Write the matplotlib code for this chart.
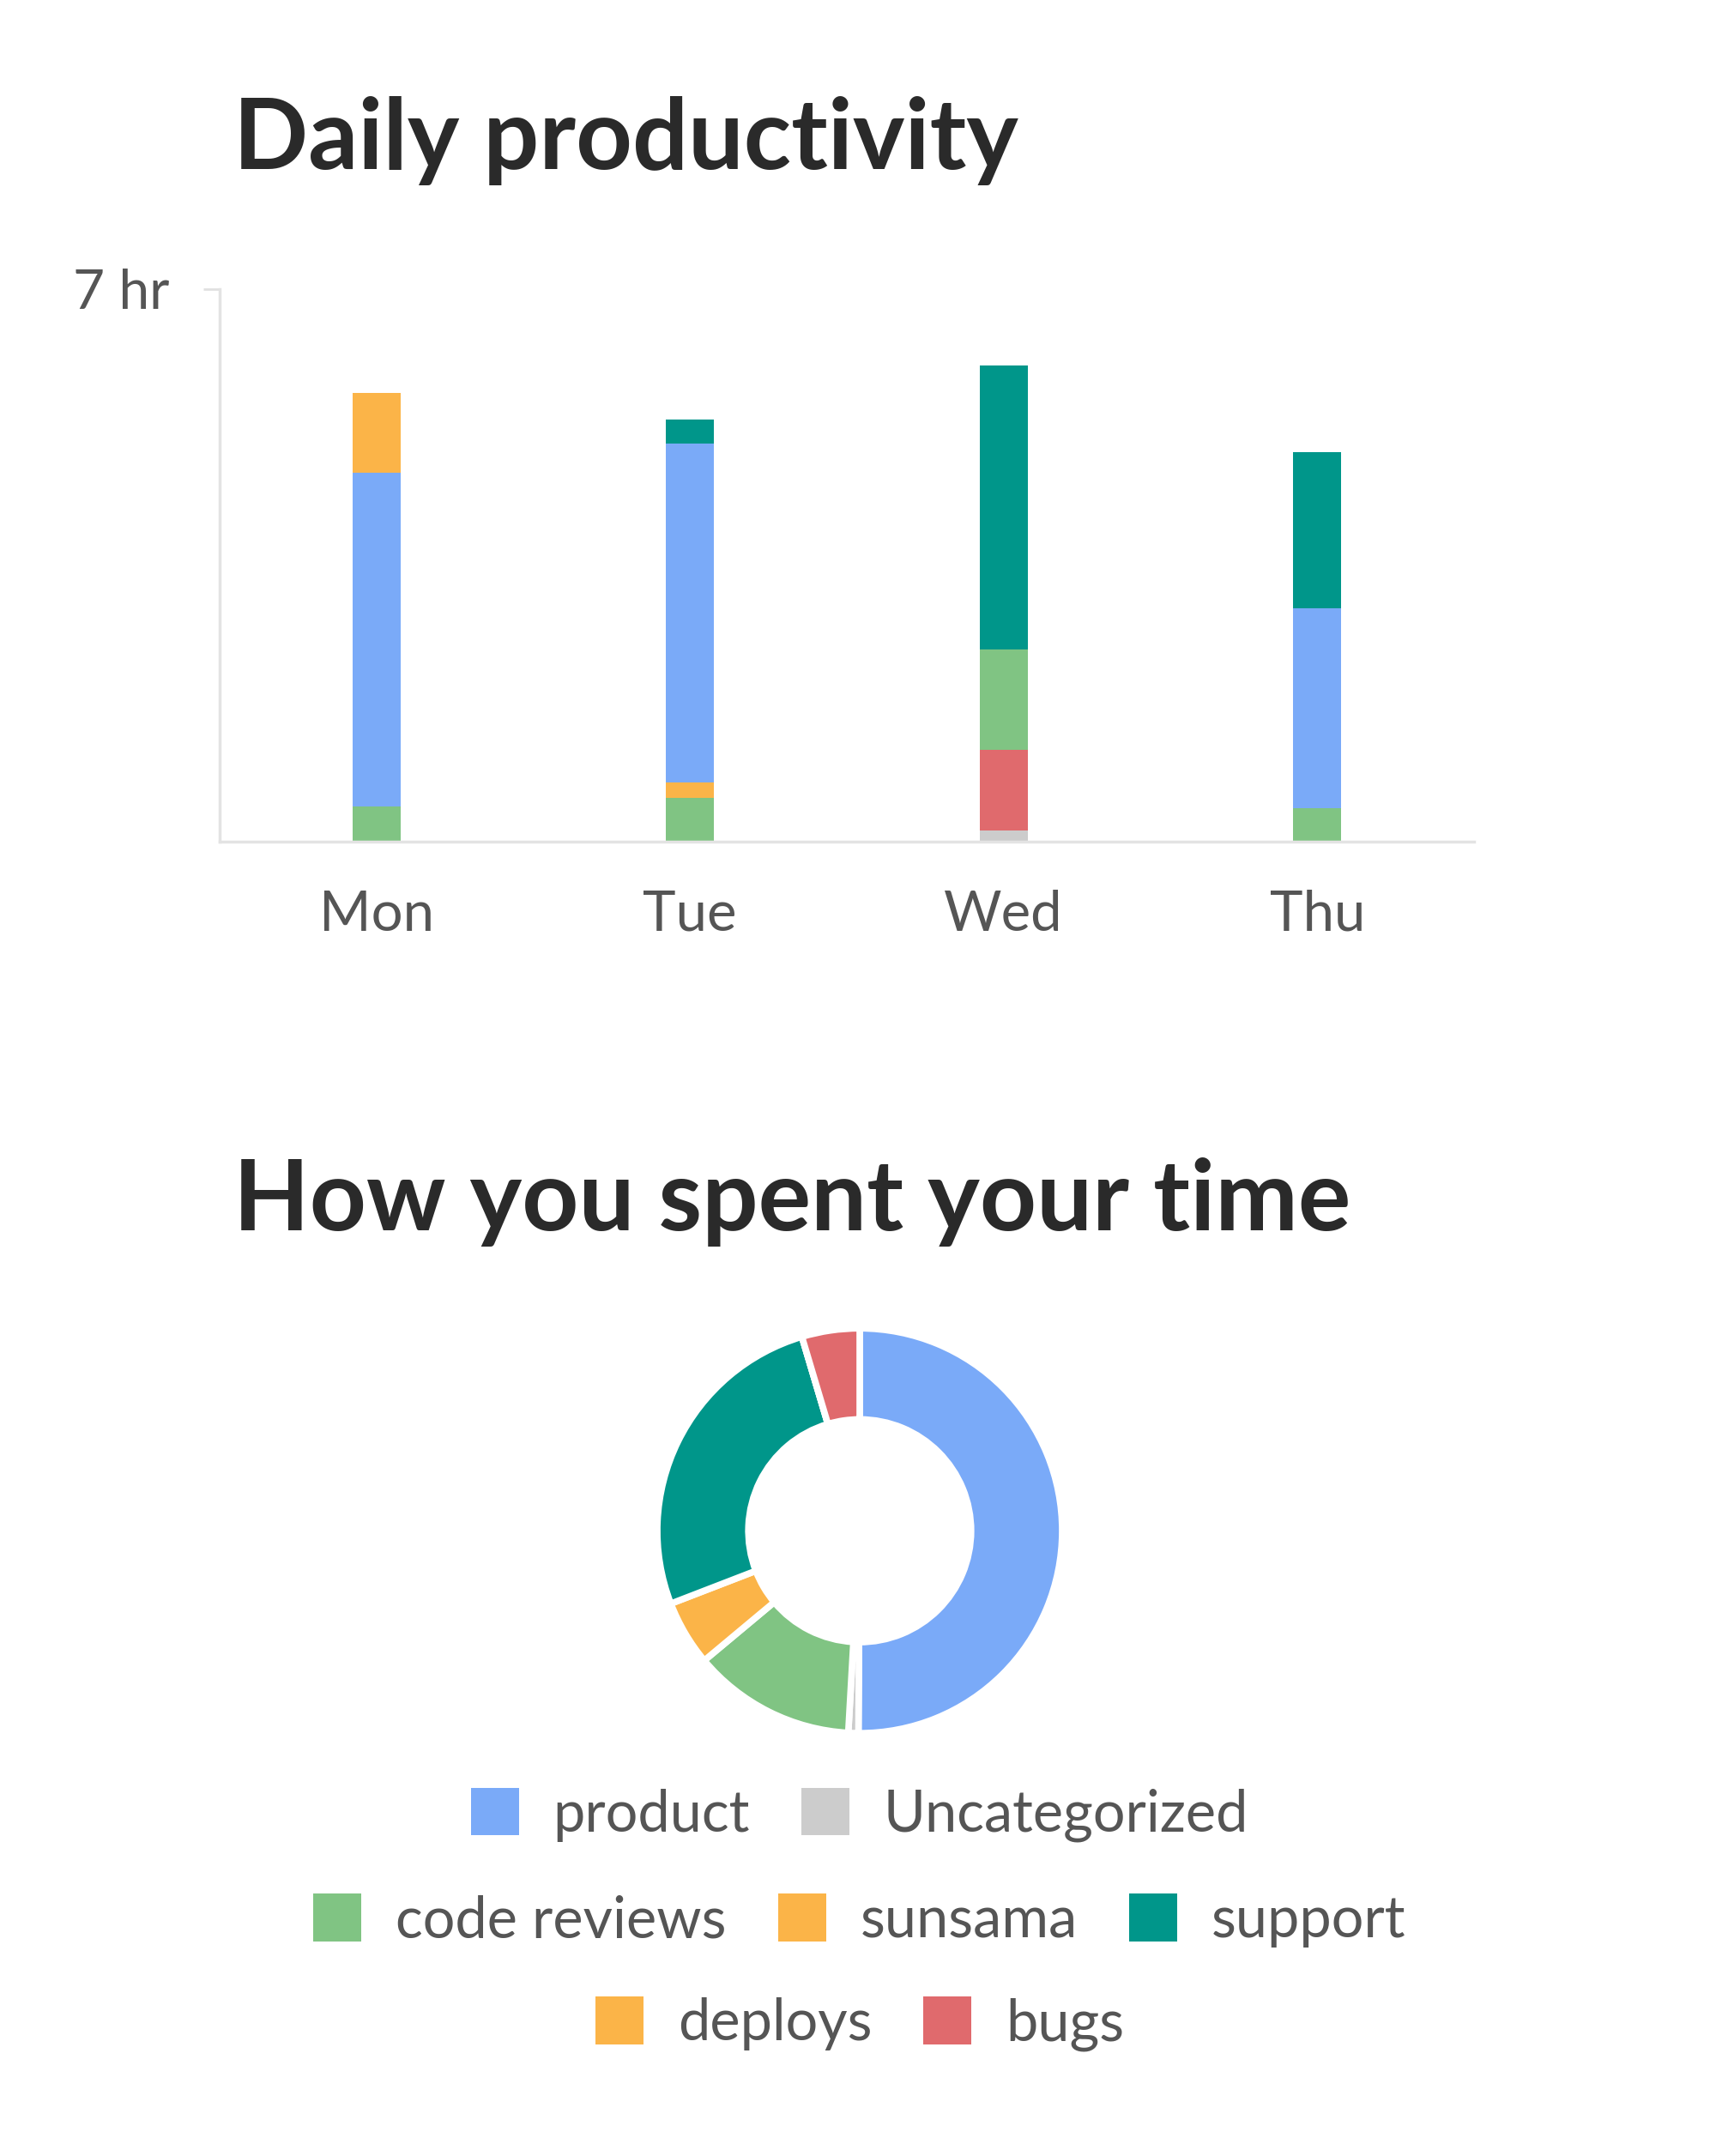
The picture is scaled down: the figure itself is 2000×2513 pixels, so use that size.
import matplotlib
matplotlib.use("Agg")
import matplotlib.pyplot as plt
from matplotlib.patches import Patch

# Hours per day
days = ["Mon", "Tue", "Wed", "Thu"]
uncategorized = [0.0, 0.0, 0.14, 0.0]
bugs = [0.0, 0.0, 1.02, 0.0]
code_reviews = [0.45, 0.55, 1.27, 0.43]
deploys = [0.0, 0.20, 0.0, 0.0]
product = [4.22, 4.29, 0.0, 2.53]
sunsama = [1.02, 0.0, 0.0, 0.0]
support = [0.0, 0.31, 3.60, 1.97]

# Share of the donut (percent)
donut_labels = ["product", "Uncategorized", "code reviews", "sunsama",
                "support", "deploys", "bugs"]
donut_share = [50.0, 0.8, 13.0, 5.2, 26.2, 0.0, 4.6]

legend_rows = [["product", "Uncategorized"],
               ["code reviews", "sunsama", "support"],
               ["deploys", "bugs"]]

colors = {
    "product": "#7aaaf8",
    "Uncategorized": "#cccccc",
    "code reviews": "#80c483",
    "sunsama": "#fbb448",
    "support": "#00968a",
    "deploys": "#fbb448",
    "bugs": "#e06a6d",
}

plt.rcParams['font.family'] = ['Lato', 'DejaVu Sans']

fig = plt.figure(figsize=(20, 25.13), dpi=100)
fig.patch.set_facecolor("white")

fig.text(0.136, 0.9216, "Daily productivity", fontsize=82.5, fontweight="bold",
         color="#2a2a2a", va="baseline")
fig.text(0.136, 0.4294, "How you spent your time", fontsize=83,
         fontweight="bold", color="#2a2a2a", va="baseline")

# stacked bars
ax = fig.add_axes([0.128, 0.6096, 0.731, 0.2563])
stack = [("Uncategorized", uncategorized), ("bugs", bugs),
         ("code reviews", code_reviews), ("deploys", deploys),
         ("product", product), ("sunsama", sunsama), ("support", support)]
x = list(range(len(days)))
bottom = [0.0] * len(days)
for name, vals in stack:
    ax.bar(x, vals, width=0.154, bottom=bottom, color=colors[name],
           linewidth=0)
    bottom = [b + v for b, v in zip(bottom, vals)]

ax.set_xlim(-0.5, 3.5)
ax.set_ylim(0, 7)
ax.set_xticks(x)
ax.set_xticklabels(days)
ax.set_yticks([7])
ax.set_yticklabels(["7 hr"])
ax.tick_params(axis="y", length=14, width=2, color="#e0e0e0", pad=28,
               labelsize=46, labelcolor="#555555")
ax.tick_params(axis="x", length=0, pad=40, labelsize=47,
               labelcolor="#555555")
for s in ["top", "right"]:
    ax.spines[s].set_visible(False)
for s in ["left", "bottom"]:
    ax.spines[s].set_color("#e3e3e3")
    ax.spines[s].set_linewidth(2.5)

# donut
ax2 = fig.add_axes([0.501 - 0.118, 0.290 - 0.0939, 0.236, 0.1878])
ax2.pie(donut_share, colors=[colors[n] for n in donut_labels],
        startangle=90, counterclock=False,
        wedgeprops=dict(width=0.45, edgecolor="white", linewidth=5.5))
ax2.set_xlim(-1, 1)
ax2.set_ylim(-1, 1)

# legend, one centred row at a time
row_y = [0.1582, 0.1091, 0.0613]
for labels, y in zip(legend_rows, row_y):
    handles = [Patch(facecolor=colors[n], edgecolor="none") for n in labels]
    fig.legend(handles, labels, loc="center", bbox_to_anchor=(0.501, y),
               ncol=len(labels), frameon=False, fontsize=48,
               handlelength=0.84, handleheight=0.9, handletextpad=0.6,
               columnspacing=0.9, labelcolor="#555555", borderpad=0,
               borderaxespad=0)

fig.savefig("out.png", dpi=100, facecolor="white")
